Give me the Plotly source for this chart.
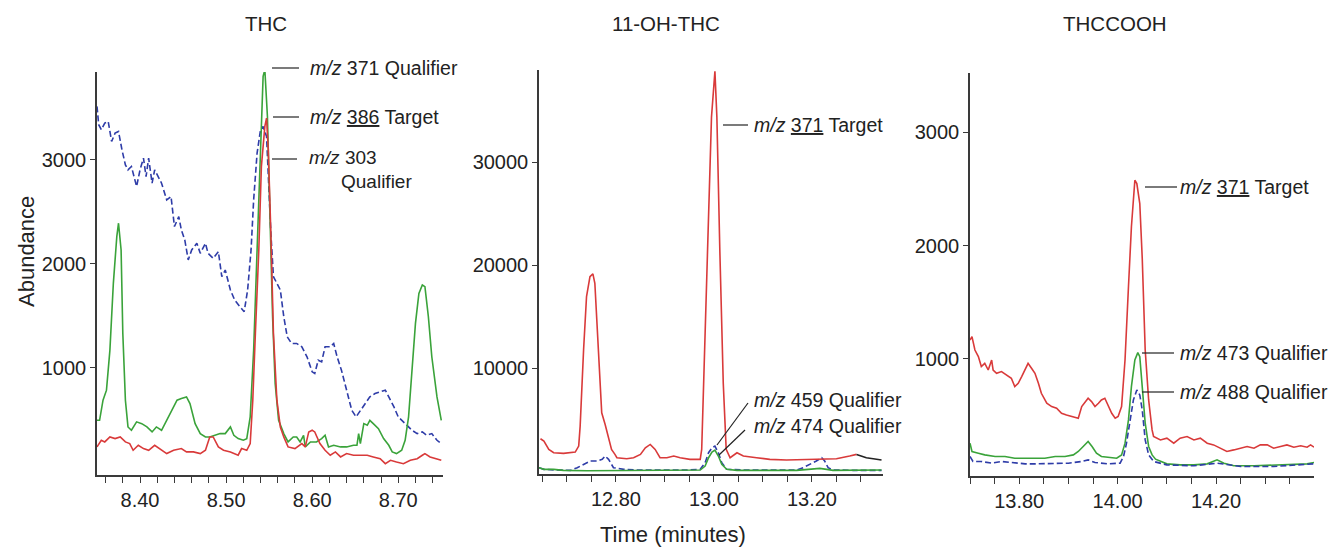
import plotly.graph_objects as go

# ---------------- Panel 1: THC ----------------
thc_371_t = [8.350, 8.353, 8.357, 8.361, 8.365, 8.369, 8.373, 8.375, 8.378, 8.380, 8.383, 8.386, 8.390, 8.396,
             8.402, 8.408, 8.414, 8.419, 8.425, 8.431, 8.437, 8.443, 8.448, 8.454, 8.458, 8.464, 8.470, 8.476,
             8.481, 8.487, 8.493, 8.499, 8.505, 8.509, 8.514, 8.520, 8.524, 8.528, 8.532, 8.536, 8.540, 8.543,
             8.545, 8.548, 8.551, 8.554, 8.557, 8.561, 8.567, 8.572, 8.578, 8.582, 8.586, 8.590, 8.592, 8.598,
             8.605, 8.611, 8.615, 8.619, 8.625, 8.633, 8.640, 8.648, 8.652, 8.654, 8.656, 8.660, 8.664, 8.667,
             8.671, 8.677, 8.683, 8.689, 8.693, 8.698, 8.704, 8.708, 8.712, 8.716, 8.720, 8.724, 8.728, 8.731,
             8.735, 8.739, 8.745, 8.750]
thc_371_v = [497, 497, 690, 787, 1172, 1814, 2263, 2392, 2135, 1332, 690, 433, 401, 482,
             465, 433, 385, 433, 401, 497, 594, 690, 706, 722, 658, 465, 369, 337,
             337, 353, 369, 369, 433, 353, 321, 305, 321, 530, 1172, 2135, 3098, 3804,
             3868, 3419, 2456, 1493, 851, 497, 369, 289, 337, 337, 289, 353, 241, 289,
             289, 321, 353, 241, 257, 241, 241, 257, 257, 369, 273, 465, 449, 497,
             465, 417, 321, 257, 193, 177, 209, 305, 530, 1011, 1429, 1717, 1798, 1782,
             1493, 1108, 722, 497]

thc_386_t = [8.350, 8.355, 8.359, 8.365, 8.371, 8.377, 8.383, 8.388, 8.392, 8.398, 8.404, 8.410, 8.417, 8.423,
             8.431, 8.439, 8.448, 8.454, 8.462, 8.470, 8.476, 8.481, 8.485, 8.491, 8.497, 8.505, 8.514, 8.518,
             8.524, 8.528, 8.531, 8.534, 8.538, 8.541, 8.545, 8.547, 8.549, 8.552, 8.555, 8.559, 8.563, 8.567,
             8.572, 8.580, 8.588, 8.592, 8.596, 8.600, 8.603, 8.609, 8.615, 8.621, 8.627, 8.633, 8.640, 8.648,
             8.656, 8.664, 8.671, 8.679, 8.685, 8.691, 8.698, 8.706, 8.714, 8.722, 8.728, 8.731, 8.737, 8.745,
             8.750]
thc_386_v = [241, 305, 289, 337, 321, 337, 289, 273, 209, 257, 225, 209, 257, 225,
             177, 209, 225, 193, 193, 177, 209, 337, 337, 241, 209, 193, 161, 225,
             209, 273, 690, 1332, 2135, 2937, 3323, 3403, 3098, 2296, 1332, 690, 433, 337,
             241, 225, 273, 241, 385, 401, 385, 273, 209, 161, 193, 145, 177, 161,
             161, 161, 145, 128, 80, 112, 96, 80, 112, 128, 161, 177, 145, 128,
             112]

thc_303_t = [8.350, 8.352, 8.355, 8.359, 8.363, 8.367, 8.371, 8.375, 8.379, 8.383, 8.386, 8.390, 8.396, 8.400,
             8.404, 8.407, 8.410, 8.414, 8.417, 8.421, 8.425, 8.431, 8.436, 8.440, 8.445, 8.448, 8.452, 8.456,
             8.460, 8.466, 8.470, 8.476, 8.479, 8.485, 8.491, 8.495, 8.499, 8.505, 8.510, 8.516, 8.521, 8.525,
             8.529, 8.532, 8.536, 8.540, 8.543, 8.547, 8.549, 8.552, 8.555, 8.559, 8.563, 8.567, 8.571, 8.576,
             8.582, 8.588, 8.594, 8.600, 8.603, 8.607, 8.611, 8.615, 8.621, 8.625, 8.629, 8.634, 8.640, 8.646,
             8.651, 8.656, 8.662, 8.667, 8.673, 8.679, 8.685, 8.689, 8.695, 8.700, 8.704, 8.710, 8.716, 8.722,
             8.728, 8.733, 8.739, 8.745, 8.750]
thc_303_v = [3515, 3339, 3291, 3355, 3371, 3178, 3258, 3274, 3098, 2953, 2905, 2937, 2745, 2905,
             3018, 2841, 3018, 2777, 2905, 2841, 2777, 2616, 2648, 2360, 2456, 2327, 2231, 2039,
             2135, 2199, 2103, 2199, 2103, 2055, 2119, 1878, 1942, 1750, 1653, 1589, 1541, 1750,
             2135, 2616, 3066, 3291, 3323, 3226, 2777, 2296, 1878, 1814, 1750, 1493, 1300, 1236,
             1236, 1204, 1107, 963, 947, 1075, 1059, 1204, 1204, 1236, 1107, 979, 787, 594,
             530, 594, 658, 722, 754, 770, 787, 722, 626, 530, 497, 449, 401, 369,
             385, 353, 369, 305, 273]

# ---------------- Panel 2: 11-OH-THC ----------------
oh_371_t = [12.646, 12.653, 12.663, 12.673, 12.693, 12.707, 12.717, 12.724, 12.727, 12.734, 12.740, 12.747,
            12.753, 12.757, 12.764, 12.771, 12.778, 12.784, 12.791, 12.798, 12.802, 12.822, 12.836, 12.850,
            12.860, 12.870, 12.880, 12.890, 12.904, 12.918, 12.931, 12.951, 12.972, 12.975, 12.981, 12.988,
            12.995, 13.002, 13.006, 13.012, 13.019, 13.025, 13.033, 13.047, 13.060, 13.087, 13.114, 13.148,
            13.182, 13.216, 13.250, 13.277, 13.291]
oh_371_v = [3129, 2903, 2097, 1774, 1710, 1774, 1839, 2420, 4355, 11774, 16936, 18872,
            19130, 18227, 11774, 5646, 4516, 3387, 2097, 1613, 1290, 1194, 1290, 1613,
            2258, 2581, 2097, 1290, 1290, 1452, 1290, 1129, 1129, 2097, 11774, 24679,
            34357, 38808, 34357, 21453, 8549, 2097, 1290, 1774, 1452, 1290, 1129, 1065,
            1129, 1194, 1194, 1452, 1613]
oh_tail_t = [13.291, 13.301, 13.311, 13.325, 13.342]
oh_tail_v = [1613, 1452, 1290, 1194, 1065]

oh_459_t = [12.643, 12.653, 12.680, 12.707, 12.721, 12.734, 12.748, 12.761, 12.772, 12.778, 12.785, 12.795,
            12.816, 12.843, 12.877, 12.911, 12.945, 12.972, 12.982, 12.989, 12.996, 13.002, 13.009, 13.016,
            13.026, 13.060, 13.114, 13.169, 13.182, 13.196, 13.209, 13.220, 13.226, 13.233, 13.243, 13.284,
            13.342]
oh_459_v = [323, 161, 97, 60, 323, 645, 968, 968, 1129, 1452, 1129, 323,
            161, 97, 97, 65, 97, 161, 806, 1774, 2258, 2420, 1774, 806,
            161, 97, 65, 97, 323, 645, 968, 1290, 968, 323, 97, 65,
            65]

oh_474_t = [12.643, 12.653, 12.673, 12.693, 12.741, 12.809, 12.911, 12.972, 12.982, 12.989, 12.996, 13.002,
            13.009, 13.016, 13.026, 13.047, 13.169, 13.196, 13.216, 13.230, 13.243, 13.342]
oh_474_v = [323, 161, 161, 65, 30, 40, 40, 97, 484, 1290, 1839, 2032,
            1452, 645, 161, 65, 65, 161, 258, 161, 65, 97]

# ---------------- Panel 3: THCCOOH ----------------
cooh_371_t = [13.700, 13.704, 13.710, 13.717, 13.723, 13.730, 13.737, 13.744, 13.747, 13.754, 13.764, 13.774,
              13.784, 13.791, 13.798, 13.805, 13.812, 13.818, 13.825, 13.832, 13.839, 13.845, 13.856, 13.866,
              13.876, 13.886, 13.896, 13.906, 13.920, 13.927, 13.934, 13.940, 13.947, 13.954, 13.961, 13.967,
              13.974, 13.981, 13.988, 13.995, 14.001, 14.008, 14.015, 14.022, 14.028, 14.035, 14.039, 14.045,
              14.050, 14.056, 14.063, 14.070, 14.073, 14.087, 14.100, 14.114, 14.127, 14.141, 14.155, 14.168,
              14.182, 14.195, 14.209, 14.222, 14.236, 14.250, 14.263, 14.277, 14.290, 14.304, 14.317, 14.331,
              14.344, 14.358, 14.372, 14.385, 14.392, 14.399]
cooh_371_v = [1167, 1197, 1079, 1021, 933, 962, 903, 991, 903, 874, 889, 859,
              830, 757, 786, 845, 903, 962, 918, 874, 786, 698, 610, 581,
              566, 522, 507, 493, 478, 581, 625, 654, 625, 581, 610, 639,
              654, 581, 522, 478, 493, 581, 991, 1637, 2165, 2575, 2546, 2370,
              1886, 1079, 639, 375, 317, 287, 302, 258, 302, 317, 287, 302,
              258, 243, 214, 185, 199, 214, 229, 214, 243, 243, 214, 229,
              243, 223, 235, 223, 243, 223]

cooh_473_t = [13.700, 13.704, 13.717, 13.730, 13.751, 13.771, 13.791, 13.812, 13.832, 13.852, 13.873, 13.893,
              13.910, 13.920, 13.930, 13.940, 13.948, 13.957, 13.967, 13.981, 13.998, 14.008, 14.015, 14.022,
              14.028, 14.035, 14.041, 14.045, 14.050, 14.056, 14.063, 14.070, 14.077, 14.100, 14.127, 14.155,
              14.182, 14.202, 14.216, 14.236, 14.277, 14.317, 14.358, 14.385, 14.399]
cooh_473_v = [258, 185, 170, 155, 141, 141, 126, 126, 126, 126, 141, 141,
              155, 185, 229, 273, 229, 170, 141, 135, 126, 155, 258, 463,
              757, 991, 1056, 1021, 786, 434, 229, 155, 117, 76, 67, 67,
              76, 111, 82, 59, 59, 65, 67, 76, 88]

cooh_488_t = [13.700, 13.706, 13.723, 13.744, 13.764, 13.791, 13.812, 13.832, 13.866, 13.900, 13.927, 13.940,
              13.954, 13.981, 14.005, 14.012, 14.018, 14.025, 14.032, 14.039, 14.045, 14.050, 14.056, 14.063,
              14.073, 14.100, 14.155, 14.202, 14.250, 14.317, 14.385, 14.399]
cooh_488_v = [141, 97, 97, 82, 97, 82, 76, 76, 76, 82, 97, 111,
              88, 76, 82, 141, 258, 434, 639, 727, 683, 551, 287, 155,
              97, 67, 59, 82, 53, 53, 67, 76]

# ---------------- Styling ----------------
FONT = "Liberation Sans, Arial, Helvetica, sans-serif"
RED = "#d93a3a"
GREEN = "#3aa33a"
BLUE = "#2e3ca8"
AXC = "#3a3a3a"
W, H = 1329, 549

def px(x):
    return x / W

def py(y):
    return 1 - y / H

fig = go.Figure()

def line(xs, ys, color, xa, ya, dash=None):
    fig.add_trace(go.Scatter(x=xs, y=ys, mode="lines", xaxis=xa, yaxis=ya,
                             line=dict(color=color, width=1.6, dash=dash),
                             showlegend=False, hoverinfo="skip"))

DASH = "6px,3px"
line(thc_303_t, thc_303_v, BLUE, "x", "y", DASH)
line(thc_371_t, thc_371_v, GREEN, "x", "y")
line(thc_386_t, thc_386_v, RED, "x", "y")

line(oh_459_t, oh_459_v, BLUE, "x2", "y2", DASH)
line(oh_474_t, oh_474_v, GREEN, "x2", "y2")
line(oh_371_t, oh_371_v, RED, "x2", "y2")
line(oh_tail_t, oh_tail_v, "#222222", "x2", "y2")

line(cooh_371_t, cooh_371_v, RED, "x3", "y3")
line(cooh_473_t, cooh_473_v, GREEN, "x3", "y3")
line(cooh_488_t, cooh_488_v, BLUE, "x3", "y3", DASH)

TICKF = dict(family=FONT, size=20, color="#222")

def xaxis(domain, rng, tick0, dtick, mdtick):
    return dict(domain=domain, range=rng, showline=True, linecolor=AXC, linewidth=1.5,
                ticks="outside", ticklen=6, tickwidth=1.2, tickcolor=AXC,
                tick0=tick0, dtick=dtick, tickformat=".2f",
                minor=dict(dtick=mdtick, tick0=tick0, ticks="outside", ticklen=6, tickwidth=1.2, tickcolor=AXC),
                showgrid=False, zeroline=False, tickfont=TICKF)

def yaxis(domain, rng, vals, anchor):
    return dict(domain=domain, range=rng, anchor=anchor, showline=True, linecolor=AXC, linewidth=1.5,
                ticks="outside", ticklen=5, tickwidth=1.2, tickcolor=AXC,
                tickmode="array", tickvals=vals, tickformat="d", showgrid=False, zeroline=False,
                tickfont=TICKF)

fig.update_layout(
    width=W, height=H, margin=dict(l=0, r=0, t=0, b=0),
    paper_bgcolor="white", plot_bgcolor="white",
    font=dict(family=FONT, color="#222"),
    xaxis=dict(xaxis([px(97), px(443)], [8.35, 8.752], 8.4, 0.1, 0.02), anchor="y"),
    yaxis=yaxis([py(475), py(72)], [-29, 3846], [1000, 2000, 3000], "x"),
    xaxis2=dict(xaxis([px(539), px(883)], [12.643, 13.345], 12.8, 0.2, 0.05), anchor="y2"),
    yaxis2=yaxis([py(474), py(70)], [-291, 38932], [10000, 20000, 30000], "x2"),
    xaxis3=dict(xaxis([px(970), px(1314)], [13.70, 14.399], 13.8, 0.2, 0.05), anchor="y3"),
    yaxis3=yaxis([py(476), py(73)], [-31, 3520], [1000, 2000, 3000], "x3"),
)

ann = []
def text(x, y, s, size=19.5, xanchor="left", angle=0):
    ann.append(dict(x=px(x), y=py(y), xref="paper", yref="paper", text=s, showarrow=False,
                    xanchor=xanchor, yanchor="middle", textangle=angle,
                    font=dict(family=FONT, size=size, color="#222")))

shapes = []
def seg(x0, y0, x1, y1):
    shapes.append(dict(type="line", xref="paper", yref="paper", x0=px(x0), y0=py(y0), x1=px(x1), y1=py(y1),
                       line=dict(color="#222", width=1.2)))

# titles and axis titles
text(266, 23, "THC", 20.5, "center")
text(666, 23, "11-OH-THC", 20.5, "center")
text(1115, 23, "THCCOOH", 20.5, "center")
text(26, 252, "Abundance", 22, "center", -90)
text(673, 534, "Time (minutes)", 22, "center")

# panel 1 labels
seg(272, 68, 299, 68); text(308, 68, "<i>m/z</i> 371 Qualifier")
seg(273, 117, 299, 117); text(308, 117, "<i>m/z</i> <u>386</u> Target")
seg(272, 159, 297, 159); text(307, 158, "<i>m/z</i> 303", 19)
text(339, 181, "Qualifier", 19)

# panel 2 labels
seg(723, 125, 748, 125); text(752, 125, "<i>m/z</i> <u>371</u> Target")
seg(748, 403, 717, 445); text(752, 400, "<i>m/z</i> 459 Qualifier")
seg(745, 430, 719, 455); text(752, 426, "<i>m/z</i> 474 Qualifier")

# panel 3 labels
seg(1145, 187, 1177, 187); text(1178, 187, "<i>m/z</i> <u>371</u> Target")
seg(1142, 353, 1174, 353); text(1178, 353, "<i>m/z</i> 473 Qualifier")
seg(1142, 392, 1174, 392); text(1178, 392, "<i>m/z</i> 488 Qualifier")

fig.update_layout(annotations=ann, shapes=shapes)
fig.write_html("out.html", config={"displayModeBar": False},
               post_script="document.body.style.margin='0px';document.body.style.overflow='hidden';")
